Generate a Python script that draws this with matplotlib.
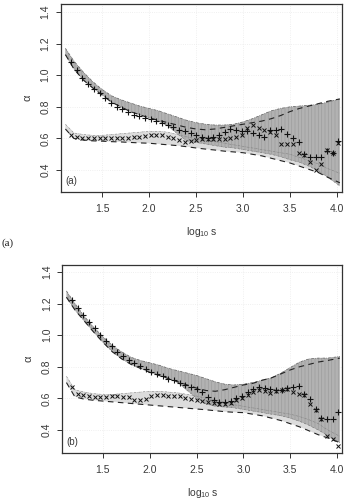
import numpy as np
import matplotlib
matplotlib.use("Agg")
import matplotlib.pyplot as plt

plt.rcParams['font.family'] = ['Liberation Sans', 'DejaVu Sans']
plt.rcParams['hatch.linewidth'] = 0.5

# marker positions (log10 s)
xs = [1.170, 1.231, 1.291, 1.352, 1.412, 1.473, 1.533, 1.594, 1.654, 1.715,
      1.775, 1.836, 1.896, 1.957, 2.017, 2.078, 2.138, 2.199, 2.259, 2.320,
      2.380, 2.441, 2.501, 2.562, 2.622, 2.683, 2.743, 2.804, 2.864, 2.925,
      2.985, 3.046, 3.106, 3.167, 3.227, 3.288, 3.348, 3.409, 3.469, 3.530,
      3.590, 3.651, 3.711, 3.772, 3.832, 3.893, 3.953, 4.014]

a_plus = [1.085, 1.03, 0.985, 0.945, 0.915, 0.885, 0.855, 0.825, 0.80, 0.785,
          0.765, 0.75, 0.74, 0.73, 0.72, 0.71, 0.70, 0.685, 0.67, 0.655,
          0.645, 0.635, 0.62, 0.61, 0.605, 0.61, 0.62, 0.64, 0.66, 0.655,
          0.645, 0.645, 0.635, 0.625, 0.61, 0.655, 0.655, 0.66, 0.63, 0.60,
          0.575, 0.50, 0.485, 0.48, 0.48, 0.52, 0.51, 0.585]
a_cross = [0.625, 0.612, 0.606, 0.603, 0.60, 0.60, 0.603, 0.605, 0.603, 0.60,
           0.602, 0.607, 0.612, 0.618, 0.622, 0.625, 0.62, 0.61, 0.60, 0.59,
           0.575, 0.585, 0.59, 0.595, 0.595, 0.595, 0.594, 0.595, 0.60, 0.61,
           0.625, 0.665, 0.685, 0.665, 0.655, 0.64, 0.62, 0.565, 0.565, 0.565,
           0.51, 0.495, 0.45, 0.40, 0.44, 0.53, 0.51, 0.57]
b_plus = [1.22, 1.17, 1.13, 1.085, 1.045, 1.00, 0.965, 0.93, 0.895, 0.87,
          0.845, 0.825, 0.805, 0.785, 0.77, 0.755, 0.74, 0.725, 0.715, 0.70,
          0.685, 0.672, 0.66, 0.64, 0.61, 0.59, 0.58, 0.575, 0.585, 0.60,
          0.615, 0.64, 0.66, 0.67, 0.665, 0.66, 0.655, 0.655, 0.665, 0.675,
          0.68, 0.63, 0.595, 0.535, 0.475, 0.47, 0.47, 0.515]
b_cross = [0.67, 0.63, 0.62, 0.613, 0.61, 0.61, 0.61, 0.612, 0.613, 0.61,
           0.606, 0.59, 0.59, 0.596, 0.612, 0.62, 0.62, 0.618, 0.615, 0.612,
           0.605, 0.598, 0.59, 0.582, 0.575, 0.57, 0.567, 0.567, 0.573, 0.59,
           0.605, 0.62, 0.64, 0.655, 0.645, 0.634, 0.645, 0.65, 0.66, 0.64,
           0.63, 0.62, 0.565, 0.525, 0.47, 0.365, 0.345, 0.30]

# band grid
xb = [1.11, 1.2, 1.3, 1.4, 1.5, 1.6, 1.7, 1.8, 1.9, 2.0, 2.1, 2.2, 2.3, 2.4, 2.5,
      2.6, 2.7, 2.8, 2.9, 3.0, 3.1, 3.2, 3.3, 3.4, 3.5, 3.6, 3.7, 3.8, 3.9, 4.03]

a_up = [1.17, 1.09, 1.02, 0.96, 0.91, 0.87, 0.845, 0.825, 0.805, 0.79, 0.775, 0.755, 0.735, 0.715, 0.70,
        0.69, 0.685, 0.685, 0.69, 0.705, 0.725, 0.75, 0.775, 0.79, 0.80, 0.805, 0.81, 0.815, 0.83, 0.85]
a_dlo = [1.13, 1.04, 0.97, 0.92, 0.875, 0.83, 0.80, 0.77, 0.75, 0.73, 0.71, 0.68, 0.63, 0.585, 0.575,
         0.565, 0.555, 0.545, 0.54, 0.53, 0.52, 0.51, 0.50, 0.485, 0.465, 0.45, 0.425, 0.395, 0.355, 0.30]
a_d1 = [1.13, 1.04, 0.97, 0.92, 0.875, 0.83, 0.80, 0.77, 0.75, 0.73, 0.715, 0.70, 0.685, 0.67, 0.66,
        0.655, 0.66, 0.67, 0.68, 0.69, 0.70, 0.71, 0.725, 0.745, 0.77, 0.79, 0.805, 0.82, 0.835, 0.85]
a_lup = [0.69, 0.635, 0.625, 0.62, 0.62, 0.625, 0.63, 0.635, 0.64, 0.645, 0.645, 0.64, 0.625, 0.61, 0.60,
         0.59, 0.58, 0.57, 0.56, 0.55, 0.54, 0.53, 0.52, 0.51, 0.50, 0.48, 0.46, 0.44, 0.41, 0.38]
a_d2 = [0.66, 0.60, 0.59, 0.585, 0.583, 0.58, 0.578, 0.575, 0.572, 0.57, 0.565, 0.56, 0.555, 0.548, 0.54,
        0.533, 0.527, 0.52, 0.515, 0.51, 0.50, 0.49, 0.475, 0.46, 0.445, 0.425, 0.405, 0.385, 0.355, 0.32]

b_up = [1.28, 1.20, 1.12, 1.05, 0.99, 0.935, 0.895, 0.86, 0.84, 0.825, 0.81, 0.79, 0.775, 0.76, 0.745,
        0.725, 0.705, 0.69, 0.685, 0.69, 0.70, 0.715, 0.73, 0.76, 0.795, 0.83, 0.85, 0.855, 0.855, 0.865]
b_dlo = [1.24, 1.16, 1.09, 1.02, 0.955, 0.895, 0.85, 0.815, 0.79, 0.765, 0.745, 0.725, 0.70, 0.65, 0.60,
         0.565, 0.55, 0.545, 0.54, 0.53, 0.52, 0.51, 0.50, 0.49, 0.475, 0.455, 0.43, 0.40, 0.365, 0.32]
b_d1 = [1.24, 1.16, 1.09, 1.02, 0.955, 0.895, 0.85, 0.815, 0.79, 0.765, 0.745, 0.725, 0.705, 0.685, 0.665,
        0.65, 0.645, 0.655, 0.67, 0.685, 0.695, 0.715, 0.73, 0.755, 0.78, 0.80, 0.815, 0.83, 0.84, 0.855]
b_lup = [0.74, 0.655, 0.64, 0.63, 0.625, 0.625, 0.63, 0.635, 0.64, 0.645, 0.645, 0.64, 0.635, 0.625, 0.615,
         0.60, 0.59, 0.575, 0.56, 0.55, 0.54, 0.53, 0.52, 0.51, 0.50, 0.485, 0.465, 0.44, 0.40, 0.36]
b_d2 = [0.70, 0.61, 0.595, 0.588, 0.583, 0.578, 0.573, 0.568, 0.563, 0.558, 0.553, 0.548, 0.543, 0.538, 0.533,
        0.528, 0.522, 0.516, 0.512, 0.51, 0.50, 0.49, 0.475, 0.46, 0.44, 0.42, 0.395, 0.37, 0.35, 0.32]

xticks = [1.5, 2.0, 2.5, 3.0, 3.5, 4.0]
yticks = [0.4, 0.6, 0.8, 1.0, 1.2, 1.4]

fig = plt.figure(figsize=(3.49, 4.99), dpi=100)

def panel(rect, ylim, plus, cross, up, dlo, d1, lup, d2, tag):
    ax = fig.add_axes(rect)
    ax.set_xlim(1.064, 4.053)
    ax.set_ylim(*ylim)
    for v in xticks:
        ax.axvline(v, color='#ebebeb', lw=0.6, ls=':', zorder=0)
    for v in yticks:
        ax.axhline(v, color='#ebebeb', lw=0.6, ls=':', zorder=0)
    # light band (x series)
    ax.fill_between(xb, d2, lup, facecolor='#dcdcdc', edgecolor='none', lw=0, zorder=1)
    # dark band with vertical shading
    ax.fill_between(xb, dlo, up, facecolor='#b2b2b2', edgecolor='#9c9c9c', hatch='|||||',
                    lw=0, zorder=2)
    ax.plot(xb, up, color='#606060', lw=0.5, ls=(0, (4, 1.5, 1, 1.5)), zorder=3)
    ax.plot(xb, dlo, color='#707070', lw=0.4, ls=(0, (4, 1.5, 1, 1.5)), zorder=3)
    ax.plot(xb, lup, color='#808080', lw=0.4, ls=(0, (4, 1.5, 1, 1.5)), zorder=3)
    ax.plot(xb, d1, color='#222222', lw=0.8, ls=(0, (5, 4)), zorder=4)
    ax.plot(xb, d2, color='#222222', lw=0.8, ls=(0, (5, 4)), zorder=4)
    ax.plot(xs, plus, ls='none', marker='+', ms=5, mew=0.8, color='#111111', zorder=5)
    ax.plot(xs, cross, ls='none', marker='x', ms=3.5, mew=0.7, color='#111111', zorder=5)
    ax.set_xticks(xticks)
    ax.set_xticklabels([f'{v:.1f}' for v in xticks])
    ax.set_yticks(yticks)
    ax.set_yticklabels([f'{v:.1f}' for v in yticks], rotation=90, va='center')
    ax.tick_params(direction='out', length=3.5, width=0.7, labelsize=7.5,
                   labelcolor='#3a3a3a', color='#333333', pad=2)
    ax.tick_params(axis='x', pad=5)
    ax.tick_params(axis='y', pad=4)
    for s in ax.spines.values():
        s.set_linewidth(0.9)
        s.set_color('#333333')
    ax.set_xlabel(r'$\mathregular{log_{10}\,s}$', fontsize=7.5, color='#3a3a3a', labelpad=8)
    ax.set_ylabel('α', fontsize=8, color='#3a3a3a', labelpad=6)
    ax.text(0.015, 0.035, tag, transform=ax.transAxes, fontsize=7, color='#3a3a3a',
            ha='left', va='bottom', zorder=6)
    return ax

panel([0.175, 0.615, 0.805, 0.377], (0.261, 1.45), a_plus, a_cross,
      a_up, a_dlo, a_d1, a_lup, a_d2, '(a)')
panel([0.178, 0.092, 0.802, 0.377], (0.254, 1.444), b_plus, b_cross,
      b_up, b_dlo, b_d1, b_lup, b_d2, '(b)')

fig.text(0.003, 1 - 243 / 499, '(a)', family='Liberation Serif', fontsize=8,
         ha='left', va='center', color='#222222')

fig.savefig('out.png', dpi=100)
